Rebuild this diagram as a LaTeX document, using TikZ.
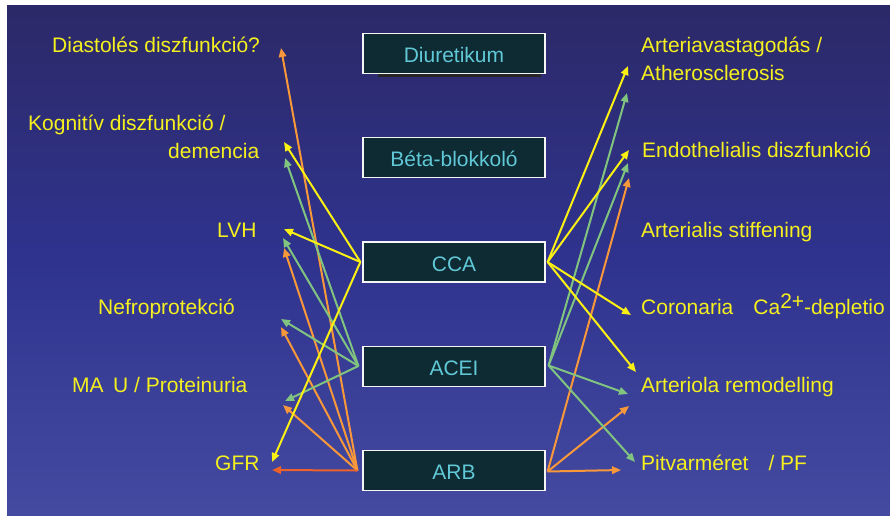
\documentclass[tikz,border=0pt]{standalone}
\usepackage{fontspec}
\setmainfont{Liberation Sans}
\usetikzlibrary{arrows.meta}
\definecolor{bgtop}{RGB}{44,41,104}
\definecolor{bgmid}{RGB}{47,51,142}
\definecolor{bgbot}{RGB}{68,74,160}
\definecolor{boxfill}{RGB}{14,42,50}
\definecolor{boxtext}{RGB}{96,200,214}
\definecolor{lblcol}{RGB}{245,240,30}
\definecolor{cyel}{RGB}{250,240,20}
\definecolor{cgrn}{RGB}{128,196,128}
\definecolor{corg}{RGB}{248,152,58}
\definecolor{cred}{RGB}{236,98,42}
\begin{document}
\begin{tikzpicture}[x=1pt,y=-1pt,
 drugbox/.style={draw=white!92!gray, line width=1.2pt, fill=boxfill, text=boxtext,
   minimum width=182pt, minimum height=40pt, inner sep=0pt,
   text height=18pt, text depth=0pt, font=\fontsize{21}{24}\selectfont},
 lbl/.style={text=lblcol, inner sep=0pt, anchor=base west, font=\fontsize{21}{24}\selectfont},
 conn/.style={line width=2pt, -{Triangle[length=9pt,width=7.5pt]}},
]
\useasboundingbox (0,0) rectangle (890,515);
\fill[white] (0,0) rectangle (890,515);
\shade[top color=bgtop, bottom color=bgbot, middle color=bgmid] (7,5) rectangle (890,515);

% drug boxes
\fill[black!85] (378,72) rectangle (541,76.5);
\node[drugbox] (diu) at (454,53.5) {Diuretikum};
\node[drugbox] (beta) at (454,157.5) {Béta-blokkoló};
\node[drugbox] (cca) at (454,262) {CCA};
\node[drugbox] (acei) at (454,366.5) {ACEI};
\node[drugbox] (arb) at (454,470.5) {ARB};

% left labels
\node[lbl] (ldia) at (52,52) {Diastolés diszfunkció?};
\node[lbl] (lkog) at (28,130) {Kognitív diszfunkció /};
\node[lbl] (ldem) at (168,158) {demencia};
\node[lbl] (llvh) at (217,237) {LVH};
\node[lbl] (lnef) at (98,314) {Nefroprotekció};
\node[lbl] (lmau) at (72,392) {MA\hspace{9.5pt}U / Proteinuria};
\node[lbl] (lgfr) at (215,470) {GFR};

% right labels
\node[lbl] (rart) at (641,52) {Arteriavastagodás /};
\node[lbl] (rath) at (641,80) {Atherosclerosis};
\node[lbl] (rend) at (642,157) {Endothelialis diszfunkció};
\node[lbl] (rstf) at (641,237) {Arterialis stiffening};
\node[lbl] (rcor) at (641,314) {Coronaria\hspace{20pt}Ca\raisebox{6pt}{2+}-depletio};
\node[lbl] (rarl) at (641,392) {Arteriola remodelling};
\node[lbl] (rpit) at (641,470) {Pitvarméret\hspace{20pt}/ PF};

% attachment points
\coordinate (ccaL) at ([xshift=-2pt]cca.west);
\coordinate (aceiL) at ([xshift=-4pt,yshift=0.5pt]acei.west);
\coordinate (arbL) at ([xshift=-5pt]arb.west);
\coordinate (ccaR) at ([xshift=2pt]cca.east);
\coordinate (aceiR) at ([xshift=3pt,yshift=1pt]acei.east);
\coordinate (arbR) at ([xshift=2pt,yshift=-1pt]arb.east);

% left arrow ends
\coordinate (edia) at (281,48);
\coordinate (ekog1) at (284,142);
\coordinate (ekog2) at (285,158);
\coordinate (elvh1) at (284,229);
\coordinate (elvh2) at (283,238);
\coordinate (elvh3) at (284,248);
\coordinate (enef1) at (281,319);
\coordinate (enef2) at (281,327);
\coordinate (emau1) at (285,401);
\coordinate (emau2) at (283,405);
\coordinate (egfr1) at (272,462);
\coordinate (egfr2) at (272,470);

% right arrow ends
\coordinate (eath1) at (628,66);
\coordinate (eath2) at (627,93);
\coordinate (eend1) at (629,150);
\coordinate (eend2) at (628,163);
\coordinate (eend3) at (629,178);
\coordinate (ecor) at (631,315);
\coordinate (earl1) at (636,372);
\coordinate (earl2) at (628,394);
\coordinate (earl3) at (629,406);
\coordinate (epit1) at (635,462);
\coordinate (epit2) at (621,470);

% left connectors
\draw[conn,corg] (arbL) -- (edia);
\draw[conn,corg] (arbL) -- (elvh3);
\draw[conn,corg] (arbL) -- (enef2);
\draw[conn,corg] (arbL) -- (emau2);
\draw[conn,cred] (arbL) -- (egfr2);
\draw[conn,cgrn] (aceiL) -- (ekog2);
\draw[conn,cgrn] (aceiL) -- (elvh2);
\draw[conn,cgrn] (aceiL) -- (enef1);
\draw[conn,cgrn] (aceiL) -- (emau1);
\draw[conn,cyel] (ccaL) -- (ekog1);
\draw[conn,cyel] (ccaL) -- (elvh1);
\draw[conn,cyel] (ccaL) -- (egfr1);

% right connectors
\draw[conn,corg] (arbR) -- (eend3);
\draw[conn,corg] (arbR) -- (earl3);
\draw[conn,corg] (arbR) -- (epit2);
\draw[conn,cgrn] (aceiR) -- (eath2);
\draw[conn,cgrn] (aceiR) -- (eend2);
\draw[conn,cgrn] (aceiR) -- (earl2);
\draw[conn,cgrn] (aceiR) -- (epit1);
\draw[conn,cyel] (ccaR) -- (eath1);
\draw[conn,cyel] (ccaR) -- (eend1);
\draw[conn,cyel] (ccaR) -- (ecor);
\draw[conn,cyel] (ccaR) -- (earl1);
\end{tikzpicture}
\end{document}
